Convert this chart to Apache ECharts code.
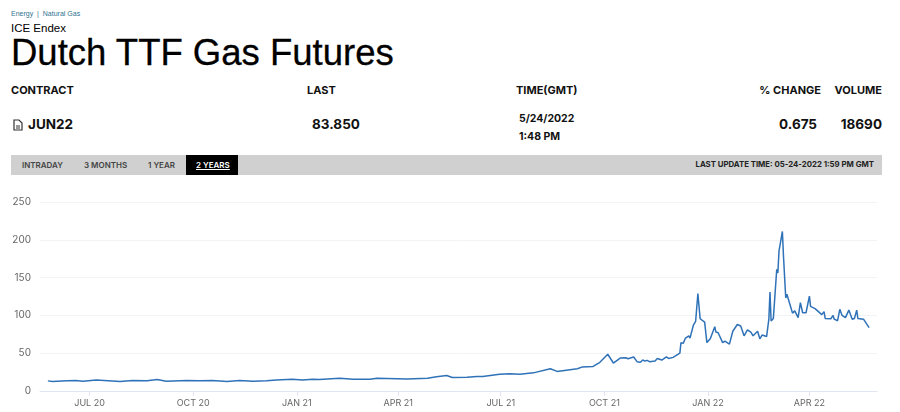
<!DOCTYPE html>
<html>
<head>
<meta charset="utf-8">
<title>Dutch TTF Gas Futures</title>
<script src="https://cdn.jsdelivr.net/npm/echarts@6/dist/echarts.min.js"></script>
<style>
    html, body { margin: 0; padding: 0; background: #fff; }
    body { width: 900px; height: 412px; position: relative; overflow: hidden; font-family: "Liberation Sans", sans-serif; color: #111; }
    .txt { position: absolute; white-space: nowrap; line-height: 1; }
    .head { font-family: Inter, sans-serif; font-weight: 700; font-size: 11px; }
    .val { font-family: Inter, sans-serif; font-weight: 700; font-size: 13.5px; }
    .small { font-family: Inter, sans-serif; font-weight: 700; font-size: 10.5px; }
    .bar { position: absolute; left: 11px; top: 155px; width: 871px; height: 20px; background: #d0d0d0; }
    .tab { font-family: Inter, sans-serif; font-weight: 600; font-size: 8px; color: #444; }
    .active { position: absolute; left: 186px; top: 155px; width: 52px; height: 20px; background: #000; }
    #main { position: absolute; left: 0; top: 180px; width: 900px; height: 232px; }
</style>
</head>
<body>
<div class="txt" style="left:11px;top:10px;font-size:7px;color:#2f7391">Energy&nbsp;&nbsp;|&nbsp;&nbsp;Natural Gas</div>
<div class="txt" style="left:11px;top:23px;font-size:11.5px;color:#000">ICE Endex</div>
<div class="txt" style="left:11px;top:35px;font-size:36.5px;color:#000;-webkit-text-stroke:0.3px #000">Dutch TTF Gas Futures</div>

<div class="txt head" style="left:11px;top:85px">CONTRACT</div>
<div class="txt head" style="left:307px;top:85px">LAST</div>
<div class="txt head" style="left:516px;top:85px">TIME(GMT)</div>
<div class="txt head" style="right:79px;top:85px">% CHANGE</div>
<div class="txt head" style="right:18px;top:85px">VOLUME</div>

<svg style="position:absolute;left:13px;top:119px" width="10" height="12" viewBox="0 0 10 12">
    <path d="M1 1h5l3 3v7H1z" fill="#fff" stroke="#333" stroke-width="1.2"/>
    <path d="M3 7h4M3 9h4" stroke="#333" stroke-width="1"/>
</svg>
<div class="txt val" style="left:28px;top:118px">JUN22</div>
<div class="txt val" style="left:312px;top:118px">83.850</div>
<div class="txt small" style="left:519px;top:114px">5/24/2022</div>
<div class="txt small" style="left:519px;top:132px">1:48 PM</div>
<div class="txt val" style="right:83px;top:118px">0.675</div>
<div class="txt val" style="right:18px;top:118px">18690</div>

<div class="bar"></div>
<div class="active"></div>
<div class="txt tab" style="left:22px;top:161px">INTRADAY</div>
<div class="txt tab" style="left:84px;top:161px">3 MONTHS</div>
<div class="txt tab" style="left:148px;top:161px">1 YEAR</div>
<div class="txt tab" style="left:196px;top:161px;color:#fff;text-decoration:underline">2 YEARS</div>
<div class="txt tab" style="top:161px;color:#222;font-weight:700;font-size:7.8px;right:26px">LAST UPDATE TIME: 05-24-2022 1:59 PM GMT</div>

<div id="main"></div>
<script>
// 刻度
var tickDates = ['2020-07-01', '2020-10-01', '2021-01-01', '2021-04-01', '2021-07-01', '2021-10-01', '2022-01-01', '2022-04-01'];
var tickLabels = ['JUL 20', 'OCT 20', 'JAN 21', 'APR 21', 'JUL 21', 'OCT 21', 'JAN 22', 'APR 22'];

// 价格
var dates = [
    '2020-05-25', '2020-05-29', '2020-06-11', '2020-06-19', '2020-06-25', '2020-07-07', '2020-07-28', '2020-08-08',
    '2020-08-21', '2020-08-30', '2020-09-07', '2020-09-25', '2020-10-07', '2020-10-18', '2020-10-31', '2020-11-11',
    '2020-11-23', '2020-12-05', '2020-12-14', '2020-12-28', '2021-01-06', '2021-01-15', '2021-01-21', '2021-02-08',
    '2021-02-20', '2021-03-07', '2021-03-13', '2021-04-09', '2021-04-27', '2021-05-05', '2021-05-14', '2021-05-19',
    '2021-06-01', '2021-06-10', '2021-06-15', '2021-06-30', '2021-07-09', '2021-07-18', '2021-07-30', '2021-08-14',
    '2021-08-20', '2021-09-07', '2021-09-11', '2021-09-21', '2021-09-27', '2021-10-04', '2021-10-09', '2021-10-15',
    '2021-10-20', '2021-10-22', '2021-10-27', '2021-10-30', '2021-11-02', '2021-11-04', '2021-11-06', '2021-11-08',
    '2021-11-10', '2021-11-15', '2021-11-17', '2021-11-21', '2021-11-25', '2021-11-27', '2021-12-01', '2021-12-07',
    '2021-12-08', '2021-12-10', '2021-12-12', '2021-12-15', '2021-12-16', '2021-12-19', '2021-12-21', '2021-12-23',
    '2021-12-25', '2021-12-29', '2021-12-31', '2022-01-03', '2022-01-07', '2022-01-08', '2022-01-10', '2022-01-14',
    '2022-01-16', '2022-01-20', '2022-01-23', '2022-01-27', '2022-01-30', '2022-02-02', '2022-02-05', '2022-02-08',
    '2022-02-10', '2022-02-14', '2022-02-16', '2022-02-18', '2022-02-22', '2022-02-24', '2022-02-25', '2022-02-26',
    '2022-02-28', '2022-03-03', '2022-03-04', '2022-03-05', '2022-03-08', '2022-03-09', '2022-03-11', '2022-03-12',
    '2022-03-15', '2022-03-17', '2022-03-19', '2022-03-22', '2022-03-24', '2022-03-26', '2022-03-29', '2022-04-01',
    '2022-04-02', '2022-04-06', '2022-04-12', '2022-04-14', '2022-04-15', '2022-04-20', '2022-04-22', '2022-04-23',
    '2022-04-26', '2022-04-28', '2022-04-30', '2022-05-03', '2022-05-06', '2022-05-09', '2022-05-11', '2022-05-13',
    '2022-05-14', '2022-05-19', '2022-05-24'
];
var prices = [
    13.4, 12.5, 13.4, 13.8, 13, 14.7, 12.5, 13.8,
    13.6, 15.2, 13, 13.8, 13.6, 13.8, 12.5, 13.8,
    13, 13.5, 14.7, 15.6, 14.7, 15.6, 15.2, 17,
    15.6, 15.6, 17, 16, 17, 18.7, 20.5, 17.8,
    18.3, 19.2, 19.2, 22.3, 22.8, 22, 24, 29.4,
    25.9, 29.4, 31.6, 32.5, 38, 48.6, 37, 43.6,
    44, 42.7, 45, 38.8, 38, 41, 39.6, 40.5,
    38.8, 39.6, 43, 41, 45, 43, 44.5, 50,
    64, 63, 70, 73, 70, 87, 92, 129,
    95.6, 91, 64, 69, 85, 78, 77, 64,
    66, 62, 79, 88, 86, 73, 81, 78,
    73, 79, 69, 74, 72, 95, 131, 92.5,
    96, 161, 156, 185, 211, 178, 123, 128,
    113, 103, 106, 97, 117, 103.5, 103.5, 125.5,
    112, 109, 101, 105, 96, 95.6, 100, 95,
    93, 108, 100, 97, 107, 95, 96, 107,
    96, 95, 83.85
];

var tickValues = tickDates.map(function(d) {return Date.parse(d)});
var seriesData = dates.map(function(d, i) {return [Date.parse(d), prices[i]]});

var chart = echarts.init(document.getElementById('main'));
chart.setOption({
    animation: false,
    grid: {
        left: 40,
        right: 23,
        top: 22,
        bottom: 21
    },
    xAxis: {
        // value 轴 + 时间戳, customValues 在 time 轴上会报错
        type: 'value',
        min: Date.parse('2020-05-18'),
        max: Date.parse('2022-05-31'),
        axisLine: {
            lineStyle: {color: '#e0e6f1'}
        },
        axisTick: {
            show: true,
            customValues: tickValues,
            lineStyle: {color: '#e0e6f1'}
        },
        axisLabel: {
            customValues: tickValues,
            color: '#666',
            fontSize: 9,
            fontFamily: 'Inter',
            formatter: function(value) {
                return tickLabels[tickValues.indexOf(value)] || '';
            }
        },
        splitLine: {show: false}
    },
    yAxis: {
        type: 'value',
        min: 0,
        max: 250,
        interval: 50,
        axisLine: {show: false},
        axisTick: {show: false},
        axisLabel: {
            color: '#666',
            fontSize: 10,
            fontFamily: 'Inter',
            margin: 9
        },
        splitLine: {
            lineStyle: {color: '#f2f3f5'}
        }
    },
    series: [{
        type: 'line',
        data: seriesData,
        showSymbol: false,
        lineStyle: {
            color: '#2f72b8',
            width: 1.5
        }
    }]
});
</script>
</body>
</html>
